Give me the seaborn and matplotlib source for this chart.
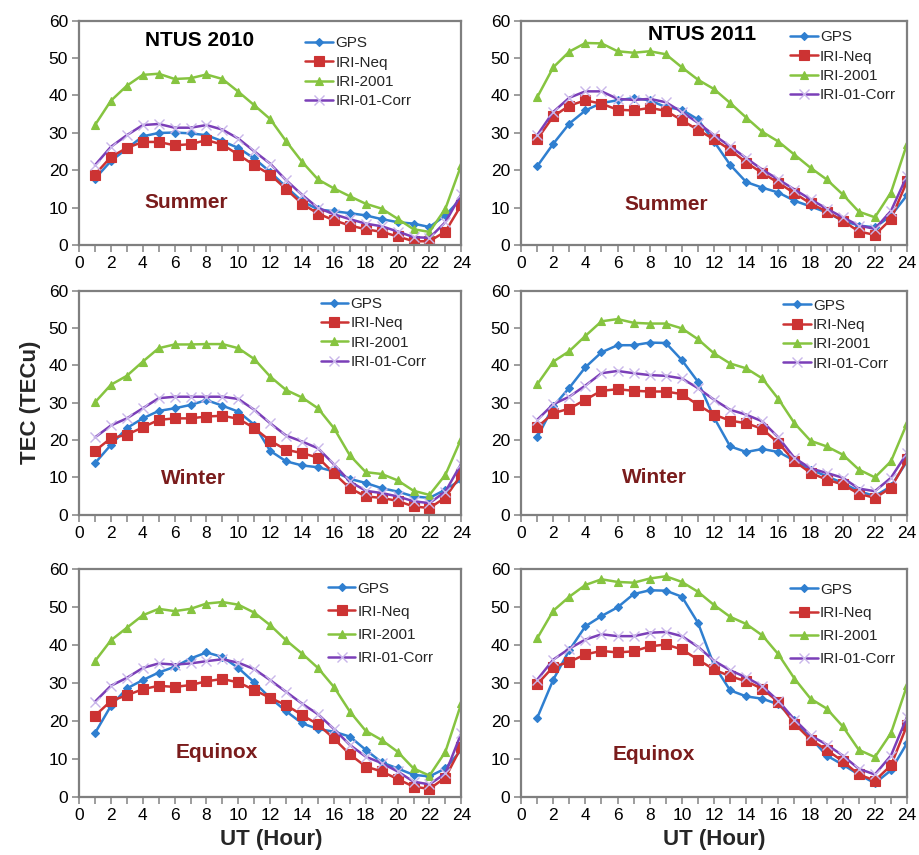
import numpy as np
import pandas as pd
import seaborn as sns
import matplotlib.pyplot as plt
from matplotlib.ticker import MultipleLocator

# =========================
# 1. Data
# =========================
hours = list(range(1, 25))

# NTUS 2010 - Summer
gps_2010_summer = [17.8, 22.5, 25.8, 29.1, 30.0, 30.1, 29.9, 29.4, 27.8, 26.0, 23.2, 19.6,
                   15.6, 11.8, 9.6, 9.1, 8.6, 8.0, 7.0, 6.2, 5.8, 4.9, 8.0, 12.6]
neq_2010_summer = [18.9, 23.6, 26.0, 27.6, 27.6, 26.7, 27.0, 28.1, 26.9, 24.2, 21.4, 18.9,
                   15.0, 11.1, 8.5, 6.7, 5.3, 4.3, 3.6, 2.4, 1.1, 1.1, 3.7, 10.8]
iri_2010_summer = [32.1, 38.6, 42.6, 45.5, 45.8, 44.4, 44.6, 45.6, 44.4, 41.0, 37.4, 33.7,
                   27.8, 22.3, 17.6, 15.2, 13.1, 11.1, 9.8, 7.1, 4.3, 3.6, 9.8, 21.5]
corr_2010_summer = [21.4, 26.3, 29.4, 32.1, 32.4, 31.4, 31.4, 32.1, 30.9, 28.5, 25.1, 21.8,
                    17.4, 13.5, 10.0, 8.3, 7.0, 5.8, 5.1, 3.7, 2.2, 2.0, 6.2, 13.7]

# NTUS 2011 - Summer
gps_2011_summer = [21.1, 27.1, 32.5, 36.0, 38.0, 38.7, 39.3, 38.7, 36.9, 36.2, 33.6, 27.7,
                   21.5, 16.9, 15.4, 14.1, 11.9, 10.4, 8.8, 6.6, 5.3, 4.8, 7.9, 13.4]
neq_2011_summer = [28.3, 34.4, 37.3, 38.7, 37.8, 36.2, 36.0, 36.7, 35.9, 33.4, 30.8, 28.3,
                   25.5, 22.1, 19.3, 16.7, 13.9, 11.2, 9.0, 6.6, 3.7, 2.8, 7.0, 17.1]
iri_2011_summer = [39.5, 47.5, 51.7, 54.0, 53.9, 51.8, 51.4, 51.8, 51.0, 47.5, 44.2, 41.7,
                   38.0, 34.1, 30.3, 27.7, 24.2, 20.7, 17.6, 13.6, 9.0, 7.5, 14.1, 27.1]
corr_2011_summer = [29.4, 35.6, 39.4, 41.1, 41.1, 39.1, 38.8, 39.1, 38.2, 35.6, 32.7, 29.4,
                    26.4, 23.3, 20.2, 17.6, 14.9, 12.3, 9.8, 7.5, 5.3, 4.4, 9.2, 18.6]

# NTUS 2010 - Winter
gps_2010_winter = [13.8, 18.7, 23.2, 25.8, 27.8, 28.5, 29.4, 30.7, 29.2, 27.6, 24.1, 17.1,
                   14.3, 13.2, 12.7, 11.6, 9.6, 8.5, 7.1, 6.2, 4.9, 4.5, 6.7, 9.4]
neq_2010_winter = [17.1, 20.5, 21.4, 23.4, 25.4, 25.8, 25.8, 26.3, 26.5, 25.7, 23.2, 19.8,
                   17.4, 16.5, 15.3, 11.1, 7.1, 4.9, 4.5, 3.7, 2.2, 1.8, 4.6, 10.8]
iri_2010_winter = [30.1, 34.8, 37.2, 41.0, 44.6, 45.6, 45.6, 45.7, 45.7, 44.6, 41.7, 37.0,
                   33.4, 31.4, 28.5, 23.2, 15.9, 11.4, 10.9, 9.2, 6.4, 5.3, 10.7, 20.4]
corr_2010_winter = [20.7, 23.9, 25.8, 28.5, 31.2, 31.6, 31.6, 31.6, 31.6, 31.0, 28.1, 24.5,
                    21.2, 19.6, 17.8, 13.5, 8.9, 6.4, 5.8, 4.9, 3.6, 3.1, 6.2, 13.7]

# NTUS 2011 - Winter
gps_2011_winter = [20.7, 29.0, 34.0, 39.5, 43.5, 45.4, 45.4, 46.1, 46.0, 41.4, 35.6, 26.0,
                   18.3, 16.8, 17.6, 16.8, 14.5, 12.1, 10.3, 8.5, 6.3, 5.0, 7.6, 14.3]
neq_2011_winter = [23.4, 27.2, 28.4, 30.8, 33.2, 33.6, 33.2, 33.0, 33.0, 32.3, 29.4, 26.8,
                   25.2, 24.5, 23.0, 19.2, 14.3, 11.2, 9.4, 8.1, 5.6, 4.5, 7.2, 14.8]
iri_2011_winter = [34.9, 41.0, 43.8, 47.9, 51.8, 52.4, 51.4, 51.2, 51.2, 49.9, 47.0, 43.2,
                   40.5, 39.2, 36.5, 31.0, 24.5, 19.8, 18.3, 16.1, 12.1, 10.0, 14.3, 24.5]
corr_2011_winter = [25.4, 29.6, 31.6, 34.6, 37.9, 38.5, 37.9, 37.4, 37.2, 36.5, 33.9, 30.8,
                    28.1, 26.8, 25.0, 20.7, 15.2, 12.4, 11.2, 9.9, 7.0, 6.3, 9.9, 16.5]

# NTUS 2010 - Equinox
gps_2010_equinox = [16.8, 24.0, 28.6, 30.8, 32.8, 34.3, 36.5, 38.1, 36.9, 34.0, 30.2, 26.1,
                    22.6, 19.4, 17.9, 17.2, 15.9, 12.4, 9.1, 7.5, 5.8, 5.4, 7.5, 12.4]
neq_2010_equinox = [21.4, 25.3, 26.8, 28.4, 29.3, 29.0, 29.5, 30.5, 31.1, 30.2, 28.2, 26.1,
                    24.2, 21.6, 19.1, 15.4, 11.2, 8.0, 6.7, 4.7, 2.7, 2.1, 5.1, 13.2]
iri_2010_equinox = [35.8, 41.3, 44.6, 47.9, 49.6, 49.0, 49.6, 51.0, 51.4, 50.7, 48.6, 45.3,
                    41.3, 37.8, 34.0, 29.0, 22.5, 17.4, 15.0, 11.9, 7.5, 5.6, 11.9, 24.7]
corr_2010_equinox = [25.1, 29.3, 31.4, 34.0, 35.2, 34.9, 35.2, 35.8, 36.3, 35.4, 33.7, 30.8,
                     27.7, 24.6, 21.8, 17.9, 13.7, 10.6, 8.9, 6.7, 4.0, 3.3, 6.2, 16.8]

# NTUS 2011 - Equinox
gps_2011_equinox = [20.8, 30.9, 38.7, 45.0, 47.7, 50.0, 53.5, 54.5, 54.4, 52.8, 45.9, 34.7,
                    28.1, 26.5, 25.9, 24.4, 20.2, 15.6, 10.9, 8.5, 5.9, 3.6, 7.0, 14.2]
neq_2011_equinox = [29.7, 34.3, 35.6, 37.6, 38.5, 38.1, 38.4, 39.7, 40.2, 38.9, 36.2, 33.6,
                    31.8, 30.5, 28.5, 25.0, 19.3, 15.1, 12.4, 9.4, 5.9, 4.3, 8.3, 18.9]
iri_2011_equinox = [41.8, 49.1, 52.8, 55.9, 57.4, 56.7, 56.5, 57.6, 58.2, 56.7, 54.1, 50.6,
                    47.5, 45.6, 42.6, 37.6, 31.2, 25.9, 23.3, 18.6, 12.4, 10.5, 16.8, 29.4]
corr_2011_equinox = [30.9, 36.2, 39.1, 41.5, 42.9, 42.4, 42.4, 43.3, 43.5, 42.4, 39.6, 35.9,
                     33.4, 31.5, 29.2, 25.3, 20.4, 16.2, 13.8, 10.9, 7.4, 5.9, 10.9, 21.1]

model_names = ["GPS", "IRI-Neq", "IRI-2001", "IRI-01-Corr"]
season_names = ["Summer", "Winter", "Equinox"]
year_titles = ["NTUS 2010", "NTUS 2011"]

panels = [
    [gps_2010_summer, neq_2010_summer, iri_2010_summer, corr_2010_summer],
    [gps_2011_summer, neq_2011_summer, iri_2011_summer, corr_2011_summer],
    [gps_2010_winter, neq_2010_winter, iri_2010_winter, corr_2010_winter],
    [gps_2011_winter, neq_2011_winter, iri_2011_winter, corr_2011_winter],
    [gps_2010_equinox, neq_2010_equinox, iri_2010_equinox, corr_2010_equinox],
    [gps_2011_equinox, neq_2011_equinox, iri_2011_equinox, corr_2011_equinox],
]

# =========================
# 2. Styles
# =========================
styles = {
    "GPS":         dict(color="#2f7fd0", marker="D", markersize=4, mec="#2f7fd0", mew=0.8, lw=1.8),
    "IRI-Neq":     dict(color="#cc3333", marker="s", markersize=7, mec="#cc3333", mew=0.8, lw=1.8),
    "IRI-2001":    dict(color="#86c440", marker="^", markersize=6, mec="#86c440", mew=0.8, lw=1.8),
    "IRI-01-Corr": dict(color="#7b3fb8", marker="x", markersize=7, mec="#c9b6ea", mew=1.0, lw=1.8),
}

sns.set_theme(style="ticks")
plt.rcParams["font.family"] = ["Liberation Sans", "DejaVu Sans"]

fig = plt.figure(figsize=(9.19, 8.55), dpi=100)

col_left = [0.086, 0.567]
col_width = [0.416, 0.420]
row_bottom = [0.713, 0.398, 0.068]
row_height = [0.263, 0.262, 0.266]

season_pos = [(0.28, 0.19), (0.376, 0.18), (0.30, 0.16), (0.345, 0.165), (0.36, 0.195), (0.345, 0.185)]
legend_pos = [(0.584, 0.943), (0.689, 0.97), (0.624, 0.985), (0.671, 0.978), (0.643, 0.96), (0.689, 0.955)]
legend_spacing = [0.35, 0.35, 0.35, 0.35, 0.6, 0.6]
title_pos = [(0.315, 0.91), (0.47, 0.94)]

for i, series in enumerate(panels):
    r, c = divmod(i, 2)
    ax = fig.add_axes([col_left[c], row_bottom[r], col_width[c], row_height[r]])
    for name, vals in zip(model_names, series):
        st = styles[name]
        sns.lineplot(x=hours, y=vals, ax=ax, label=name, color=st["color"],
                     marker=st["marker"], markersize=st["markersize"],
                     markeredgecolor=st["mec"], markeredgewidth=st["mew"],
                     linewidth=st["lw"])
    ax.set_xlim(0, 24)
    ax.set_ylim(0, 60)
    ax.xaxis.set_major_locator(MultipleLocator(2))
    ax.xaxis.set_minor_locator(MultipleLocator(1))
    ax.yaxis.set_major_locator(MultipleLocator(10))
    ax.tick_params(axis="both", which="both", direction="out", color="#8c8c8c",
                   labelsize=12.5, labelcolor="black", pad=3)
    ax.tick_params(axis="both", which="major", length=5, width=1.2)
    ax.tick_params(axis="x", which="minor", length=5, width=1.2)
    for sp in ax.spines.values():
        sp.set_visible(True)
        sp.set_color("#7f7f7f")
        sp.set_linewidth(1.6)
    ax.set_xlabel("")
    ax.set_ylabel("")

    sx, sy = season_pos[i]
    ax.text(sx, sy, season_names[r], transform=ax.transAxes, ha="center", va="center",
            fontsize=15, fontweight="bold", color="#7a1c1c")
    if r == 0:
        tx, ty = title_pos[c]
        ax.text(tx, ty, year_titles[c], transform=ax.transAxes, ha="center", va="center",
                fontsize=15, fontweight="bold", color="black")

    lx, ly = legend_pos[i]
    ax.legend(loc="upper left", bbox_to_anchor=(lx, ly), frameon=False, fontsize=11,
              handlelength=1.8, handletextpad=0.15, labelspacing=legend_spacing[i],
              borderaxespad=0, borderpad=0.2)

fig.text(0.033, 0.529, "TEC (TECu)", rotation=90, ha="center", va="center",
         fontsize=16, fontweight="bold")
fig.text(0.295, 0.018, "UT (Hour)", ha="center", va="center", fontsize=16, fontweight="bold")
fig.text(0.777, 0.018, "UT (Hour)", ha="center", va="center", fontsize=16, fontweight="bold")

fig.savefig("out.png", dpi=100, facecolor="white")
